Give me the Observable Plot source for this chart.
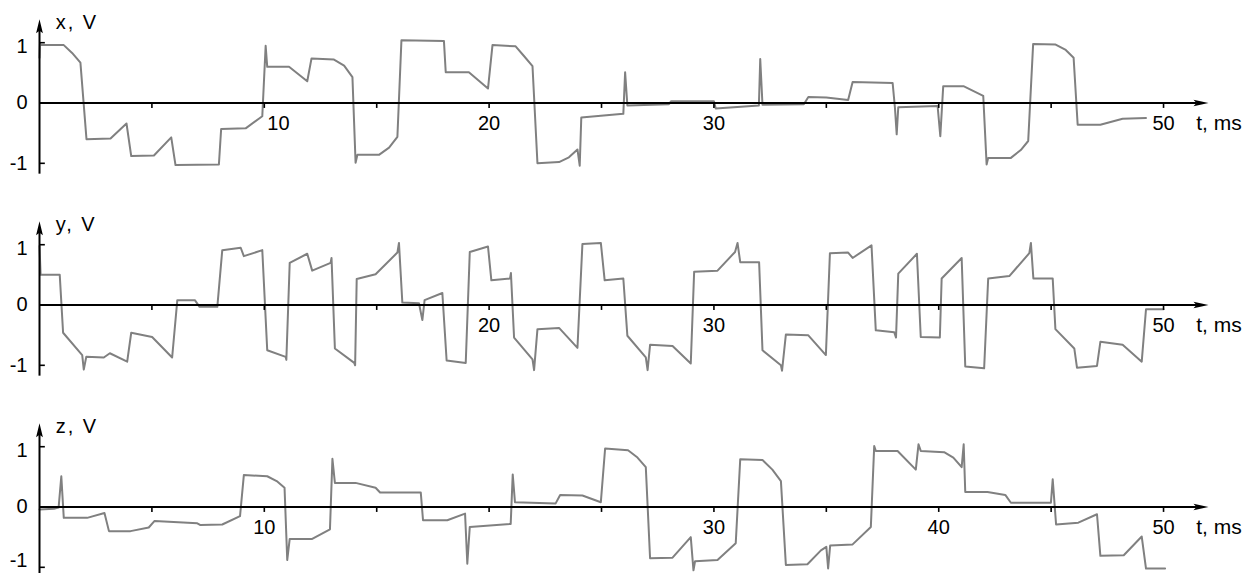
<!DOCTYPE html>
<html><head><meta charset="utf-8">
<script src="https://cdn.jsdelivr.net/npm/d3@7"></script>
<script src="https://cdn.jsdelivr.net/npm/@observablehq/plot@0.6"></script>
<style>
html,body{margin:0;padding:0;background:#fff;overflow:hidden;}
#chart{width:1254px;height:573px;overflow:hidden;}
#chart svg{display:block;}
</style></head><body><div id="chart"></div>
<script>
// ---- data (t in ms, value in V) ----
const tX = [0,0.02,0.07,1.08,1.45,1.82,2.09,3.16,3.87,4.08,5.09,5.86,6.05,7.98,8.08,9.17,9.91,10.06,10.13,11.10,11.91,12.10,13.10,13.55,13.92,14.06,14.14,15.10,15.55,15.92,16.10,17.99,18.07,19.10,19.95,20.15,21.18,21.55,21.93,22.15,23.11,23.55,23.93,24.03,24.10,25.97,26.05,26.15,28.00,28.10,30.00,30.08,32.00,32.06,32.16,34.00,34.20,35.00,35.97,36.17,37.95,38.05,38.13,38.20,39.95,40.07,40.20,41.10,41.98,42.13,42.20,43.21,43.65,43.98,44.20,45.20,45.65,46.00,46.18,47.19,48.18,49.22];
const vX = [0.75,0.98,0.96,0.96,0.83,0.67,-0.60,-0.59,-0.34,-0.88,-0.87,-0.57,-1.03,-1.02,-0.43,-0.42,-0.22,0.95,0.60,0.60,0.36,0.74,0.72,0.62,0.43,-0.99,-0.86,-0.86,-0.74,-0.56,1.04,1.03,0.51,0.51,0.24,0.96,0.94,0.78,0.61,-1.00,-0.98,-0.90,-0.77,-1.04,-0.24,-0.18,0.51,-0.04,-0.02,0.03,0.03,-0.09,-0.04,0.73,-0.03,-0.02,0.10,0.09,0.05,0.35,0.33,-0.07,-0.52,-0.07,-0.05,-0.55,0.28,0.28,0.12,-1.02,-0.91,-0.91,-0.78,-0.63,0.98,0.97,0.88,0.75,-0.36,-0.36,-0.26,-0.25];

const tY = [0.00,0.05,0.90,1.05,1.90,1.97,2.08,2.86,3.13,3.90,4.08,5.01,5.90,6.13,6.91,7.12,7.91,8.13,8.95,9.09,9.91,10.13,10.95,10.98,11.13,11.91,12.13,12.95,12.99,13.14,14.00,14.04,14.11,14.95,15.92,15.99,16.14,16.88,17.03,17.13,17.92,18.11,18.96,19.14,19.95,20.10,20.93,20.97,21.11,21.93,22.00,22.15,23.11,23.93,24.15,24.97,25.14,25.97,26.15,26.97,27.05,27.16,28.16,28.97,29.12,30.16,30.94,31.05,31.17,32.01,32.16,32.98,33.03,33.20,34.19,34.98,35.16,35.97,36.17,37.01,37.20,38.02,38.10,38.20,39.03,39.20,40.05,40.13,41.02,41.18,42.02,42.20,43.14,44.03,44.10,44.21,45.07,45.19,46.03,46.15,47.04,47.19,48.18,49.03,49.22,50.00];
const vY = [0.98,0.50,0.50,-0.46,-0.83,-1.07,-0.86,-0.87,-0.80,-0.94,-0.46,-0.53,-0.87,0.08,0.08,-0.03,-0.03,0.91,0.95,0.81,0.91,-0.75,-0.86,-0.91,0.70,0.85,0.57,0.70,0.78,-0.72,-0.96,-1.00,0.43,0.51,0.87,1.03,0.04,0.03,-0.25,0.08,0.20,-0.92,-0.96,0.88,0.97,0.41,0.44,0.53,-0.54,-0.90,-1.08,-0.40,-0.38,-0.71,1.01,1.03,0.41,0.44,-0.51,-0.87,-1.08,-0.66,-0.68,-0.97,0.55,0.57,0.88,1.03,0.71,0.71,-0.75,-1.00,-1.09,-0.49,-0.50,-0.83,0.86,0.87,0.78,0.99,-0.42,-0.45,-0.54,0.52,0.85,-0.53,-0.54,0.44,0.78,-1.02,-1.05,0.44,0.48,0.86,1.03,0.44,0.44,-0.40,-0.72,-1.04,-1.01,-0.61,-0.66,-0.94,-0.07,-0.07];

const tZ = [0.00,0.64,0.85,0.97,1.08,2.12,2.89,3.09,4.05,4.86,5.12,7.02,7.16,8.13,8.92,9.09,10.13,10.55,10.90,11.02,11.13,12.13,12.92,13.03,13.14,14.06,14.95,15.15,16.96,17.06,18.14,18.93,19.03,19.14,20.96,21.05,21.15,22.96,23.16,24.15,24.97,25.16,26.18,26.60,26.97,27.16,28.16,28.97,29.09,29.16,30.16,30.97,31.17,32.16,32.60,32.98,33.20,34.16,34.76,35.00,35.08,35.17,36.17,36.98,37.13,37.20,38.17,38.98,39.10,39.20,40.24,40.65,41.02,41.11,41.18,42.17,42.96,43.21,44.99,45.07,45.22,46.21,47.04,47.19,48.23,49.03,49.22,50.07];
const vZ = [-0.04,-0.03,-0.01,0.51,-0.18,-0.18,-0.10,-0.40,-0.40,-0.34,-0.23,-0.27,-0.30,-0.29,-0.15,0.53,0.51,0.43,0.32,-0.88,-0.53,-0.53,-0.37,0.80,0.40,0.40,0.32,0.24,0.24,-0.22,-0.22,-0.11,-0.94,-0.33,-0.28,0.54,0.08,0.06,0.20,0.19,0.08,0.97,0.94,0.82,0.66,-0.85,-0.84,-0.50,-1.05,-0.90,-0.88,-0.60,0.79,0.78,0.62,0.43,-0.96,-0.95,-0.72,-0.66,-1.02,-0.64,-0.62,-0.33,1.01,0.93,0.93,0.62,1.04,0.93,0.91,0.82,0.66,1.04,0.25,0.25,0.20,0.07,0.07,0.46,-0.29,-0.26,-0.12,-0.81,-0.80,-0.49,-1.02,-1.02];

const axisNames = ["x, V", "y, V", "z, V"];
const xTickValues = [5,10,15,20,25,30,35,40,45,50];
const xTickLabelsX = [10,20,30,50];
const xTickLabelsY = [20,30,50];
const xTickLabelsZ = [10,30,40,50];
const yTickValues = [1,0,-1];
const yTickLabels = ["1","0","-1"];
const yMinorTicks = [1,-1];
const xLabel = "t, ms";

// ---- layout ----
const W = 1254, PX_PER_V = 60.3, TOP_V = 1.7;
const X_END = 52, Y_TOP = 1.39, Y_BOTTOM = -1.18;
const heights = [202, 202, 169];

const arrowRight = {draw(c){c.moveTo(0,0);c.lineTo(-15,-3.2);c.lineTo(-12,0);c.lineTo(-15,3.2);c.closePath();}};
const arrowUp = {draw(c){c.moveTo(0,0);c.lineTo(-3.4,14);c.lineTo(0,11.5);c.lineTo(3.4,14);c.closePath();}};

const series = [
  {name: axisNames[0], t: tX, v: vX, labels: xTickLabelsX},
  {name: axisNames[1], t: tY, v: vY, labels: xTickLabelsY},
  {name: axisNames[2], t: tZ, v: vZ, labels: xTickLabelsZ}
];

const root = document.getElementById("chart");
series.forEach((s, i) => {
  const h = heights[i];
  const yLow = TOP_V - h / PX_PER_V;
  const data = s.t.map((t, k) => ({t, v: s.v[k]}));
  const yBottom = i === 2 ? yLow : Y_BOTTOM;
  // first panel: the "10" label sits to the right of its tick
  const shifted = i === 0 ? s.labels.filter(d => d === 10) : [];
  const centered = s.labels.filter(d => !shifted.includes(d));
  const labelY = d => (d === 1 ? d - 4 / PX_PER_V : (i === 2 && d === -1 ? d + 7 / PX_PER_V : d));
  const svg = Plot.plot({
    width: W, height: h,
    marginLeft: 39, marginRight: 46, marginTop: 0, marginBottom: 0,
    style: {fontFamily: "'Liberation Sans', Arial, sans-serif", fontSize: "20px", background: "white", overflow: "visible"},
    x: {domain: [0, X_END], axis: null},
    y: {domain: [yLow, TOP_V], axis: null},
    marks: [
      Plot.line(data, {x: "t", y: "v", stroke: "#808080", strokeWidth: 2, strokeLinejoin: "round"}),
      Plot.ruleY([0], {x1: 0, x2: X_END - 0.5, stroke: "black", strokeWidth: 2}),
      Plot.ruleX([0], {y1: yBottom, y2: Y_TOP - 0.15, stroke: "black", strokeWidth: 2}),
      Plot.ruleX(xTickValues, {x: d => d, y1: 0, y2: -0.09, stroke: "black", strokeWidth: 1.6}),
      Plot.ruleY(yMinorTicks, {y: d => d, x1: 0, x2: 0.26, stroke: "black", strokeWidth: 1.6}),
      Plot.dot([X_END], {x: d => d, y: 0, symbol: arrowRight, fill: "black", stroke: "none"}),
      Plot.dot([Y_TOP], {x: 0, y: d => d, symbol: arrowUp, fill: "black", stroke: "none"}),
      Plot.text(yTickValues, {x: 0, y: labelY, text: (d, k) => yTickLabels[k], dx: -12, textAnchor: "end", fontSize: 20, fill: "black"}),
      Plot.text(centered, {x: d => d, y: 0, text: d => String(d), dy: 21, fontSize: 20, fill: "black"}),
      Plot.text(shifted, {x: d => d, y: 0, text: d => String(d), dx: 3, dy: 21, textAnchor: "start", fontSize: 20, fill: "black"}),
      Plot.text([xLabel], {x: 51.45, y: 0, text: d => d, dy: 20, textAnchor: "start", fontSize: 21, fill: "black"}),
      Plot.text([s.name], {x: 0.72, y: 0, text: d => d, dy: -80, textAnchor: "start", fontSize: 20, fill: "black"})
    ]
  });
  d3.select(svg).selectAll("text").filter(function(){ return this.textContent === s.name; }).style("letter-spacing", "2px");
  root.appendChild(svg);
});
</script>
</body></html>
